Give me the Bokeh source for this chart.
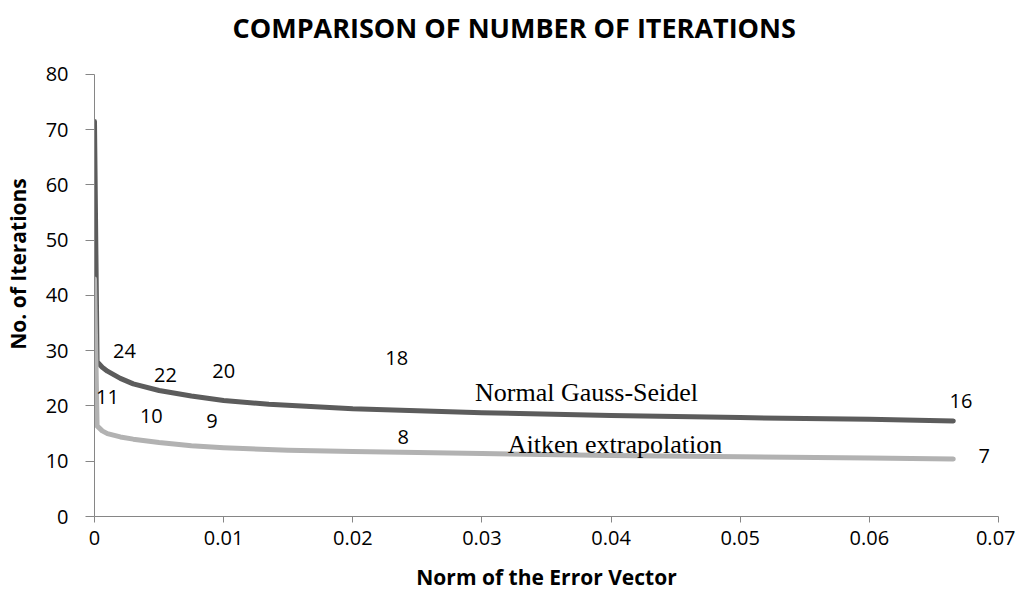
from bokeh.plotting import figure
from bokeh.models import FixedTicker, ColumnDataSource
from bokeh.core.properties import value
from bokeh.embed import file_html
from bokeh.resources import INLINE

# Data
x_gs = [0.0, 0.0002, 0.0006, 0.001, 0.002, 0.003, 0.005, 0.0075, 0.01, 0.0135, 0.02, 0.03, 0.04, 0.05, 0.06, 0.0665]
y_gs = [71.5, 28.0, 27.0, 26.3, 25.0, 24.0, 22.8, 21.8, 21.0, 20.3, 19.5, 18.8, 18.3, 17.9, 17.6, 17.3]
x_ait = [0.0, 0.0002, 0.0006, 0.001, 0.002, 0.003, 0.005, 0.0075, 0.01, 0.015, 0.02, 0.03, 0.04, 0.05, 0.06, 0.0665]
y_ait = [43.0, 16.4, 15.5, 15.0, 14.4, 14.0, 13.4, 12.8, 12.45, 12.0, 11.75, 11.4, 11.05, 10.8, 10.6, 10.4]

num_labels = ["24", "22", "20", "18", "16", "11", "10", "9", "8", "7"]
num_x = [0.00232, 0.0055, 0.0100, 0.0234, 0.0671, 0.0010, 0.0044, 0.0091, 0.0239, 0.0689]
num_y = [30.0, 25.7, 26.4, 28.7, 20.9, 21.6, 18.1, 17.2, 14.4, 11.0]

series_labels = ["Normal Gauss-Seidel", "Aitken extrapolation"]
series_lx = [0.0381, 0.0403]
series_ly = [22.5, 13.0]

title_text = ["COMPARISON OF NUMBER OF ITERATIONS"]
title_x = [0.0325]
title_y = [88.5]

x_ticks = [0, 0.01, 0.02, 0.03, 0.04, 0.05, 0.06, 0.07]
x_tick_labels = ["0", "0.01", "0.02", "0.03", "0.04", "0.05", "0.06", "0.07"]
y_ticks = [0, 10, 20, 30, 40, 50, 60, 70, 80]

p = figure(width=1015, height=593, output_backend="svg", toolbar_location=None,
           x_range=(0, 0.07), y_range=(0, 91.4),
           min_border_left=94, min_border_right=17, min_border_top=11, min_border_bottom=77)
p.outline_line_color = None
p.grid.visible = False

axis_color = "#868686"
for ax in (p.xaxis[0], p.yaxis[0]):
    ax.axis_line_color = axis_color
    ax.major_tick_line_color = axis_color
    ax.minor_tick_line_color = None
    ax.major_tick_in = 0
    ax.major_label_text_font = "Open Sans"
    ax.major_label_text_font_size = "20px"
    ax.major_label_text_color = "black"
    ax.axis_label_text_font = "Open Sans"
    ax.axis_label_text_font_size = "21px"
    ax.axis_label_text_font_style = "bold"
    ax.axis_label_text_color = "black"

p.xaxis.major_tick_out = 6
p.yaxis.major_tick_out = 9
p.xaxis.major_label_standoff = 8
p.yaxis.major_label_standoff = 17
p.xaxis.ticker = FixedTicker(ticks=x_ticks)
p.xaxis.major_label_overrides = {t: l for t, l in zip(x_ticks, x_tick_labels)}
p.yaxis.ticker = FixedTicker(ticks=y_ticks)
p.yaxis.bounds = (0, 80)
p.xaxis.axis_label = "Norm of the Error Vector"
p.yaxis.axis_label = "No. of Iterations"
p.xaxis.axis_label_standoff = 15
p.yaxis.axis_label_standoff = 11

p.line(x_gs, y_gs, line_color="#5c5c5c", line_width=5, line_cap="round", line_join="round")
p.line(x_ait, y_ait, line_color="#b2b2b2", line_width=5, line_cap="round", line_join="round")

src = ColumnDataSource(dict(x=num_x, y=num_y, t=num_labels))
p.text("x", "y", text="t", source=src, text_font=value("Open Sans"), text_font_size="20px",
       text_align="center", text_baseline="middle", text_color="black")

src2 = ColumnDataSource(dict(x=series_lx, y=series_ly, t=series_labels))
p.text("x", "y", text="t", source=src2, text_font=value("Liberation Serif"), text_font_size="26px",
       text_align="center", text_baseline="middle", text_color="black")

src3 = ColumnDataSource(dict(x=title_x, y=title_y, t=title_text))
p.text("x", "y", text="t", source=src3, text_font=value("Open Sans"), text_font_size="27px",
       text_font_style="bold", text_align="center", text_baseline="middle", text_color="black")

open("out.html", "w").write(file_html(p, INLINE))
